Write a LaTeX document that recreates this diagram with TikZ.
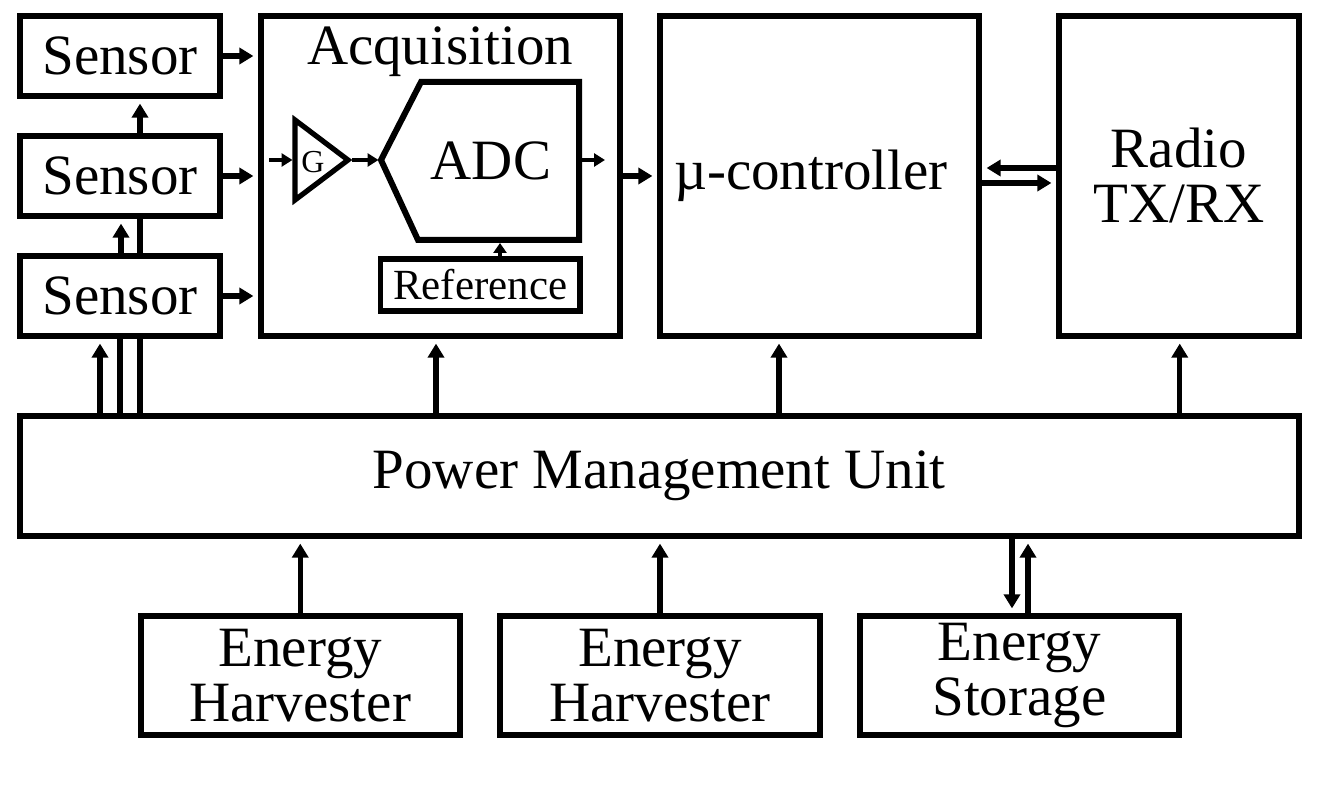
\documentclass[tikz,border=0pt]{standalone}
\usepackage{fontspec}
\setmainfont{Liberation Serif}
\usetikzlibrary{arrows.meta,calc}
\begin{document}
\begin{tikzpicture}[x=0.5pt,y=-0.5pt,
  box/.style={draw, line width=3pt, inner sep=0pt, font=\fontsize{28.5}{27.5}\selectfont, align=center},
  arr/.style={line width=2.6pt, -{Triangle[length=7pt,width=8pt]}, shorten >=2.3pt},
  sarr/.style={line width=2.2pt, -{Triangle[length=5.5pt,width=6.5pt]}},
  wire/.style={line width=2.6pt},
  lbl/.style={font=\fontsize{28.5}{27.5}\selectfont, inner sep=0pt}]
\useasboundingbox (0,0) rectangle (1324,796);

% sensors
\node[box, minimum width=100pt, minimum height=40pt] (s1) at (120,56) {Sensor};
\node[box, minimum width=100pt, minimum height=40pt] (s2) at (120,176) {Sensor};
\node[box, minimum width=100pt, minimum height=40pt] (s3) at (120,296) {Sensor};

% main blocks
\node[box, minimum width=179.5pt, minimum height=160pt] (acq) at (440.5,176) {};
\node[lbl, anchor=base] (acqt) at (440,65) {Acquisition};
\node[box, minimum width=159.5pt, minimum height=160pt] (mc) at (819.5,176) {};
\node[lbl] (mct) at (811,176) {µ-controller};
\node[box, minimum width=119.75pt, minimum height=160pt] (radio) at (1178.75,176) {Radio\\TX/RX};
\node[box, minimum width=639.25pt, minimum height=60pt] (pmu) at (659.25,476) {Power Management Unit};

% energy
\node[box, minimum width=159.75pt, minimum height=59.75pt] (eh1) at (300.25,675.75) {Energy\\Harvester};
\node[box, minimum width=159.75pt, minimum height=59.75pt] (eh2) at (660,675.75) {Energy\\Harvester};
\node[box, minimum width=159.5pt, minimum height=59.5pt] (es) at (1019.5,675.5) {Energy\\Storage};

% acquisition internals
\draw[line width=3pt, line join=miter] (381,160) -- (421,82) -- (579,82) -- (579,240) -- (418,240) -- cycle;
\coordinate (adcin) at (378.5,160);
\coordinate (adcout) at (582,160);
\coordinate (adcbot) at (500,243);
\node[lbl] (adct) at (491,161) {ADC};
\draw[line width=2.6pt, line join=miter] (295,120) -- (295,200) -- (348,160) -- cycle;
\coordinate (ampin) at (292.5,160);
\coordinate (ampout) at (352,160);
\node[font=\fontsize{16}{17}\selectfont, inner sep=0pt] (g) at (313,162) {G};
\node[draw, line width=2.8pt, inner sep=0pt, minimum width=99.75pt, minimum height=26pt, font=\fontsize{21.5}{22}\selectfont] (ref) at (480.25,285) {Reference};
\coordinate (accin) at (269,160);
\coordinate (acqo) at (605,160);

\draw[sarr] (accin) -- (ampin);
\draw[sarr] (ampout) -- (adcin);
\draw[sarr] (adcout) -- (acqo);
\draw[sarr, -{Triangle[length=5pt,width=6.5pt]}] (ref.north -| adcbot) -- (adcbot);

% sensor -> acquisition
\draw[arr] (s1.east) -- (s1.east -| acq.west);
\draw[arr] (s2.east) -- (s2.east -| acq.west);
\draw[arr] (s3.east) -- (s3.east -| acq.west);

% acquisition -> mc
\draw[arr] (acq.east) -- (mc.west);

% mc <-> radio
\coordinate (r1) at ($(radio.west)+(0,-8)$);
\coordinate (r2) at ($(mc.east)+(0,7)$);
\draw[arr] (r1) -- (r1 -| mc.east);
\draw[arr] (r2) -- (r2 -| radio.west);

% power to sensors
\coordinate (pa) at ($(s3.south)+(-20,0)$);
\coordinate (pb) at ($(s3.south)+(0,0)$);
\coordinate (pc) at ($(s3.south)+(20,0)$);
\draw[arr] (pa |- pmu.north) -- (pa);
\draw[wire] (pb |- pmu.north) -- (pb);
\draw[wire] (pc |- pmu.north) -- (pc);
\coordinate (qb) at ($(s3.north)+(1,0)$);
\coordinate (qc) at ($(s3.north)+(20,0)$);
\draw[arr] (qb) -- (qb |- s2.south);
\draw[wire] (qc) -- (qc |- s2.south);
\coordinate (rc) at ($(s2.north)+(20,0)$);
\draw[arr] (rc) -- (rc |- s1.south);

% power to blocks
\coordinate (pacq) at ($(acq.south)+(-4.5,0)$);
\coordinate (pmc) at ($(mc.south)+(-40.5,0)$);
\coordinate (prad) at ($(radio.south)+(1,0)$);
\draw[arr] (pacq |- pmu.north) -- (pacq);
\draw[arr] (pmc |- pmu.north) -- (pmc);
\draw[arr] (prad |- pmu.north) -- (prad);

% energy to pmu
\draw[arr] (eh1.north) -- (eh1.north |- pmu.south);
\draw[arr] (eh2.north) -- (eh2.north |- pmu.south);
\coordinate (esd) at ($(es.north)+(-7.5,0)$);
\coordinate (esu) at ($(es.north)+(8.5,0)$);
\draw[arr] (esd |- pmu.south) -- (esd);
\draw[arr] (esu) -- (esu |- pmu.south);
\end{tikzpicture}
\end{document}
